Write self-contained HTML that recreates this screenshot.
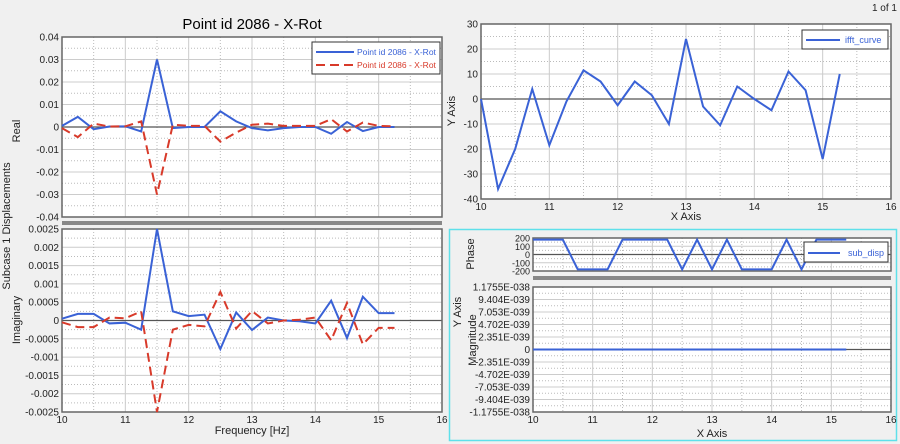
<!DOCTYPE html><html><head><meta charset="utf-8"><style>
body{margin:0;background:#f0f0f0;font-family:"Liberation Sans",sans-serif}
svg{display:block}
</style></head><body>
<svg id="s" width="900" height="444" xmlns="http://www.w3.org/2000/svg" font-family="Liberation Sans, sans-serif"></svg>
<script>
const S=document.getElementById('s');let h='';
function T(x,y,t,o){o=o||{};h+=`<text x="${x}" y="${y}" font-size="${o.fs||10}" fill="${o.c||'#222'}" text-anchor="${o.a||'end'}" ${o.r?`transform="rotate(-90 ${x} ${y})"`:''}>${t}</text>`;}
function L(x1,y1,x2,y2,c,w,d){h+=`<line x1="${x1}" y1="${y1}" x2="${x2}" y2="${y2}" stroke="${c}" stroke-width="${w||1}" ${d?`stroke-dasharray="${d}"`:''}/>`;}
function plot(p){const {X0,X1,Y0,Y1,ymin,ymax,yl,xlab}=p;
 h+=`<rect x="${X0}" y="${Y0}" width="${X1-X0}" height="${Y1-Y0}" fill="#fff"/>`;
 const fx=v=>X0+(v-10)/6*(X1-X0),fy=v=>Y1-(v-ymin)/(ymax-ymin)*(Y1-Y0);
 const n=yl.length-1;
 for(let i=0;i<=n;i++){const y=Y0+i*(Y1-Y0)/n;if(i>0&&i<n)L(X0,y,X1,y,'#ccc',1);
  if(i<n)L(X0,y+(Y1-Y0)/n/2,X1,y+(Y1-Y0)/n/2,'#bbb',1,'1,2');
  T(X0-3,y+3.5,yl[i],{fs:p.tfs||10});}
 for(let v=10;v<=16;v++){const x=fx(v);if(v>10&&v<16)L(x,Y0,x,Y1,'#ccc',1);if(v<16)L(x+(X1-X0)/12,Y0,x+(X1-X0)/12,Y1,'#bbb',1,'1,2');
  if(xlab)T(x,Y1+11,v,{a:'middle'});}
 L(X0,fy(0),X1,fy(0),'#555',1.2);
 h+=`<rect x="${X0}" y="${Y0}" width="${X1-X0}" height="${Y1-Y0}" fill="none" stroke="#666" stroke-width="1.5"/>`;
 (p.series||[]).forEach(s=>{let pts=s.d.map((v,i)=>Array.isArray(v)?fx(v[0])+','+fy(v[1]):fx(10+i*0.25)+','+fy(v)).join(' ');
  h+=`<polyline points="${pts}" fill="none" stroke="${s.c}" stroke-width="2" ${s.dash?'stroke-dasharray="9,5"':''}/>`;});
}
const rb=[0.0005,0.0045,-0.001,0.0002,0.0003,-0.002,0.030,-0.0005,0,0,0.007,0.0025,-0.0005,-0.0015,-0.0005,0,0,-0.003,0.0022,-0.0018,0,0];
const rr=[-0.0005,-0.0045,0.0015,0.0002,0.0003,0.0025,-0.030,0.001,0.0005,0.0005,-0.0065,-0.0025,0.001,0.0015,0.0005,0.0005,0.0005,0.0035,-0.002,0.002,0.0005,0.0003];
const ib=[0.00005,0.00018,0.00018,-0.00008,-0.00006,-0.00025,0.0025,0.00025,0.00012,0.00016,-0.00078,0.00022,-0.00026,0.00008,0,-0.00002,-0.00008,0.00054,-0.00048,0.00065,0.0002,0.0002];
const ir=ib.map(v=>-v);
const ff=[0,-36,-20,4,-18.5,-1,11.5,7,-2.5,7,1.5,-10,24,-3,-10.5,5,0,-4.5,11,3.5,-24,10];
const ph=[[10,180],[10.5,180],[10.75,-180],[11.25,-180],[11.5,180],[12.25,180],[12.5,-180],[12.75,180],[13,-180],[13.25,180],[13.5,-180],[14,-180],[14.25,180],[14.5,-180],[14.75,180],[15.25,180]];
h+=`<rect x="449.5" y="229.5" width="447" height="211" fill="#f0f0f0" stroke="#5ee0ea" stroke-width="1.5"/>`;
T(252,29,'Point id 2086 - X-Rot',{a:'middle',fs:15,c:'#000'});
T(897,11,'1 of 1',{fs:10});
plot({X0:62,X1:442,Y0:37,Y1:217,ymin:-0.04,ymax:0.04,yl:['0.04','0.03','0.02','0.01','0','-0.01','-0.02','-0.03','-0.04'],series:[{d:rb,c:'#3a62d6'},{d:rr,c:'#d83a2a',dash:1}]});
h+=`<rect x="62" y="221" width="380" height="4" fill="#888"/>`;
plot({X0:62,X1:442,Y0:229,Y1:412,ymin:-0.0025,ymax:0.0025,yl:['0.0025','0.002','0.0015','0.001','0.0005','0','-0.0005','-0.001','-0.0015','-0.002','-0.0025'],xlab:1,series:[{d:ib,c:'#3a62d6'},{d:ir,c:'#d83a2a',dash:1}]});
T(20,131,'Real',{a:'middle',r:1,fs:11});T(20,320,'Imaginary',{a:'middle',r:1,fs:11});
T(10,226,'Subcase 1 Displacements',{a:'middle',r:1,fs:11});
T(252,434,'Frequency [Hz]',{a:'middle',fs:11});
h+=`<rect x="312" y="42" width="128" height="32" fill="#fff" stroke="#333"/>`;L(316,52,354,52,'#3a62d6',2);L(316,65,354,65,'#d83a2a',2,'9,5');
T(357,55,'Point id 2086 - X-Rot',{a:'start',fs:8.5,c:'#3a62d6'});T(357,68,'Point id 2086 - X-Rot',{a:'start',fs:8.5,c:'#d83a2a'});
plot({X0:481,X1:891,Y0:24,Y1:199,ymin:-40,ymax:30,yl:['30','20','10','0','-10','-20','-30','-40'],xlab:1,series:[{d:ff,c:'#3a62d6'}]});
T(455,111,'Y Axis',{a:'middle',r:1,fs:11});T(686,220,'X Axis',{a:'middle',fs:11});
h+=`<rect x="802" y="30" width="86" height="19" fill="#fff" stroke="#333"/>`;L(806,40,840,40,'#3a62d6',2);T(845,43,'ifft_curve',{a:'start',fs:9,c:'#3a62d6'});
plot({X0:533,X1:891,Y0:238,Y1:271,ymin:-200,ymax:200,yl:['200','100','0','-100','-200'],tfs:9,series:[{d:ph,c:'#3a62d6'}]});
h+=`<rect x="533" y="276" width="358" height="4" fill="#888"/>`;
plot({X0:533,X1:891,Y0:287,Y1:412,ymin:-1,ymax:1,yl:['1.1755E-038','9.404E-039','7.053E-039','4.702E-039','2.351E-039','0','-2.351E-039','-4.702E-039','-7.053E-039','-9.404E-039','-1.1755E-038'],xlab:1,series:[{d:[[10,0],[15.25,0]],c:'#3a62d6'}]});
T(474,254,'Phase',{a:'middle',r:1,fs:11});T(461,312,'Y Axis',{a:'middle',r:1,fs:11});T(476,340,'Magnitude',{a:'middle',r:1,fs:11});
T(712,437,'X Axis',{a:'middle',fs:11});
h+=`<rect x="804" y="242" width="84" height="20" fill="#fff" stroke="#333"/>`;L(808,253,840,253,'#3a62d6',2);T(848,256,'sub_disp',{a:'start',fs:9,c:'#3a62d6'});
S.innerHTML=h;
</script></body></html>
